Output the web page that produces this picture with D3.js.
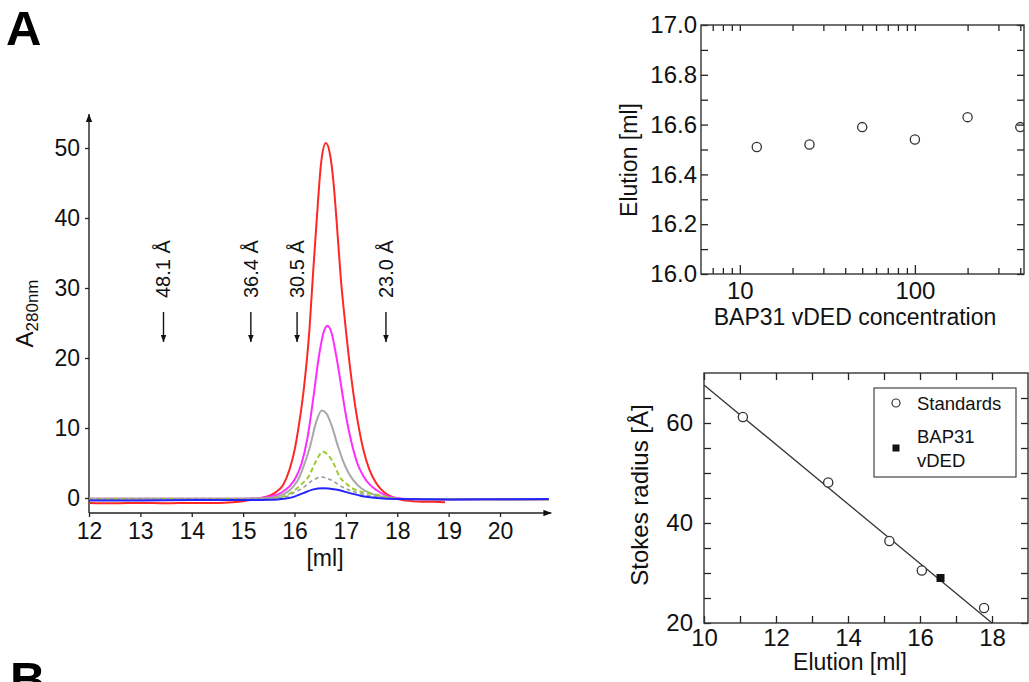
<!DOCTYPE html>
<html>
<head>
<meta charset="utf-8">
<script src="https://cdn.jsdelivr.net/npm/d3@7"></script>
<style>
  body { margin: 0; background: #fff; }
  svg { font-family: "Liberation Sans", Arial, Helvetica, sans-serif; }
  .axis path, .axis line { stroke: #222; stroke-width: 1.3; }
  .axis text { fill: #111; }
</style>
</head>
<body>
<div id="cont"></div>
<script>

// ---------------- data ----------------
// panel A left: chromatograms, [elution ml, A280]
var tickMl = [12, 13, 14, 15, 16, 17, 18, 19, 20];
var tickA = [0, 10, 20, 30, 40, 50];

var redTrace = [[12.0,-0.7],[12.5,-0.75],[13.0,-0.7],[13.5,-0.75],[14.0,-0.7],[14.5,-0.7],[14.8,-0.6],
  [15.0,-0.45],[15.25,-0.15],[15.5,0.3],[15.65,0.9],[15.78,1.9],[15.9,4.0],[16.0,6.8],[16.07,9.7],
  [16.18,15.5],[16.29,24.0],[16.36,32.0],[16.43,39.5],[16.52,48.0],[16.61,50.7],[16.7,48.7],
  [16.76,45.0],[16.82,39.5],[16.9,31.5],[17.0,24.0],[17.1,17.5],[17.18,13.2],[17.26,9.7],
  [17.35,6.6],[17.45,4.2],[17.6,2.0],[17.75,0.8],[17.92,0.1],[18.1,-0.3],[18.4,-0.5],[18.7,-0.55],[18.93,-0.6]];

var magentaTrace = [[12.0,-0.1],[13.0,-0.1],[14.0,-0.1],[15.0,-0.1],[15.3,0.0],[15.55,0.25],[15.7,0.6],
  [15.81,1.1],[15.92,1.8],[16.03,3.0],[16.14,5.0],[16.25,8.5],[16.37,14.5],[16.47,20.0],[16.56,23.5],
  [16.64,24.6],[16.72,23.6],[16.8,20.8],[16.87,17.8],[16.94,14.5],[17.02,11.0],[17.12,7.6],[17.22,5.0],
  [17.35,3.0],[17.48,1.8],[17.6,1.1],[17.75,0.45],[17.9,0.1],[18.1,-0.1],[18.5,-0.2],[19.5,-0.2],[20.95,-0.2]];

var graySolidTrace = [[12.0,-0.1],[13.5,-0.1],[15.0,-0.1],[15.5,0.0],[15.7,0.3],[15.85,0.8],[15.97,1.6],
  [16.07,2.6],[16.18,4.6],[16.3,7.3],[16.42,10.8],[16.53,12.5],[16.62,12.1],[16.72,10.4],[16.85,7.3],
  [16.95,5.2],[17.05,3.6],[17.14,2.6],[17.3,1.4],[17.47,0.7],[17.7,0.2],[18.0,-0.1],[18.5,-0.2],[20.95,-0.2]];

var greenDashTrace = [[12.0,-0.1],[13.5,-0.1],[15.0,-0.1],[15.6,0.0],[15.85,0.4],[16.05,1.4],[16.17,2.2],
  [16.27,3.0],[16.42,5.3],[16.55,6.6],[16.66,6.1],[16.77,4.8],[16.88,3.0],[17.0,2.1],[17.1,1.5],
  [17.3,0.9],[17.5,0.6],[17.66,0.4],[17.9,0.0],[18.2,-0.15],[20.95,-0.2]];

var grayDashTrace = [[12.0,-0.1],[13.5,-0.1],[15.0,-0.1],[15.8,0.1],[16.0,0.8],[16.17,1.5],[16.35,2.5],
  [16.53,3.0],[16.7,2.6],[16.95,1.5],[17.2,0.8],[17.5,0.3],[17.8,0.0],[18.2,-0.15],[20.95,-0.2]];

var blueTrace = [[12.0,-0.35],[13.0,-0.35],[14.0,-0.3],[15.0,-0.3],[15.5,-0.25],[15.8,-0.1],[16.0,0.2],
  [16.17,0.7],[16.35,1.2],[16.56,1.4],[16.8,1.2],[17.08,0.7],[17.3,0.3],[17.6,0.0],[18.0,-0.15],
  [19.0,-0.2],[20.95,-0.15]];

// size standards (elution ml, Stokes radius A)
var standardsElution = [11.08, 13.45, 15.15, 16.05, 17.78];
var standardsRadius  = [61.2, 48.1, 36.4, 30.5, 23.0];
var bapElution = [16.57];
var bapRadius  = [29.0];
var fitLine = [[10, 67.6], [18.0, 20.0]];

// panel A top right: elution vs concentration
var concentrations = [12.5, 25, 50, 100, 200, 400];
var concElution    = [16.51, 16.52, 16.59, 16.54, 16.63, 16.59];
var concMajor = [10, 100];
var concMinor = [7, 8, 9, 20, 30, 40, 50, 60, 70, 80, 90, 200, 300, 400];
var elutionMajor = [16.0, 16.2, 16.4, 16.6, 16.8, 17.0];
var elutionMinor = [16.1, 16.3, 16.5, 16.7, 16.9];

// panel A bottom right ticks
var elutionMlMajor = [10, 12, 14, 16, 18];
var elutionMlMinor = [11, 13, 15, 17];
var radiusMajor = [20, 40, 60];
var radiusMinor = [25, 30, 35, 45, 50, 55, 65];

// ---------------- svg ----------------
var svg = d3.select("#cont").append("svg")
    .attr("width", 1029)
    .attr("height", 682);

var defs = svg.append("defs");
defs.append("marker")
    .attr("id", "axisArrow")
    .attr("viewBox", "0 -4 10 8")
    .attr("refX", 10).attr("refY", 0)
    .attr("markerWidth", 8).attr("markerHeight", 6.4)
    .attr("markerUnits", "userSpaceOnUse")
    .attr("orient", "auto")
  .append("path")
    .attr("d", "M0,-4L10,0L0,4Z")
    .attr("fill", "#111");
defs.append("marker")
    .attr("id", "tipArrow")
    .attr("viewBox", "0 -4 10 8")
    .attr("refX", 10).attr("refY", 0)
    .attr("markerWidth", 7).attr("markerHeight", 5.6)
    .attr("markerUnits", "userSpaceOnUse")
    .attr("orient", "auto")
  .append("path")
    .attr("d", "M0,-4L10,0L0,4Z")
    .attr("fill", "#111");

// panel letters
svg.append("text").attr("x", 6).attr("y", 45)
    .style("font-size", "49px").style("font-weight", "bold").text("A");
svg.append("text").attr("x", 10).attr("y", 696)
    .style("font-size", "49px").style("font-weight", "bold").text("B");

// ================= left chromatogram =================
var xL = d3.scaleLinear().domain([12, 21]).range([89, 551.4]);
var yL = d3.scaleLinear().domain([0, 50]).range([498, 148]);
var baseY = 513, topY = 114;

var gxL = svg.append("g")
    .attr("class", "axis")
    .attr("transform", "translate(0," + baseY + ")")
    .call(d3.axisBottom(xL).tickValues(tickMl).tickSize(4).tickPadding(6).tickFormat(d3.format("d")));
gxL.select(".domain").remove();
gxL.selectAll("text").style("font-size", "23px");

var gyL = svg.append("g")
    .attr("class", "axis")
    .attr("transform", "translate(" + xL(12) + ",0)")
    .call(d3.axisLeft(yL).tickValues(tickA).tickSize(4).tickPadding(5));
gyL.select(".domain").remove();
gyL.selectAll("text").style("font-size", "23px");

svg.append("line")
    .attr("x1", xL(12)).attr("x2", xL(21))
    .attr("y1", baseY).attr("y2", baseY)
    .attr("stroke", "#222").attr("stroke-width", 1.4)
    .attr("marker-end", "url(#axisArrow)");
svg.append("line")
    .attr("x1", xL(12)).attr("x2", xL(12))
    .attr("y1", baseY).attr("y2", topY)
    .attr("stroke", "#222").attr("stroke-width", 1.4)
    .attr("marker-end", "url(#axisArrow)");

// y label A280nm
var yLab = svg.append("text")
    .attr("transform", "translate(33," + ((baseY + topY) / 2) + ") rotate(-90)")
    .attr("text-anchor", "middle")
    .style("font-size", "24px")
    .style("fill", "#111");
yLab.append("tspan").text("A");
yLab.append("tspan").attr("dy", "0.3em").style("font-size", "17px").text("280nm");

svg.append("text")
    .attr("x", 325).attr("y", 566)
    .attr("text-anchor", "middle")
    .style("font-size", "23px").style("fill", "#111")
    .text("[ml]");

// standard markers (arrows with Stokes radius)
var marks = svg.selectAll(".std")
    .data(standardsElution.slice(1).map(function(e, i) { return {e: e, r: standardsRadius[i + 1]}; }))
  .enter().append("g")
    .attr("class", "std");
marks.append("line")
    .attr("x1", function(d) { return xL(d.e); })
    .attr("x2", function(d) { return xL(d.e); })
    .attr("y1", 312).attr("y2", 342)
    .attr("stroke", "#111").attr("stroke-width", 1.4)
    .attr("marker-end", "url(#tipArrow)");
marks.append("text")
    .attr("transform", function(d) { return "translate(" + xL(d.e) + ",298) rotate(-90)"; })
    .attr("dy", "0.35em")
    .style("font-size", "20px").style("fill", "#111")
    .text(function(d) { return d.r.toFixed(1) + " \u00C5"; });

// traces
var traceStyles = [
  {data: redTrace,       color: "#ff2626", width: 2.0, dash: null},
  {data: magentaTrace,   color: "#ff2cff", width: 2.0, dash: null},
  {data: graySolidTrace, color: "#a8a8a8", width: 2.0, dash: null},
  {data: greenDashTrace, color: "#9ccc2e", width: 2.0, dash: "5,3"},
  {data: grayDashTrace,  color: "#9a9a9a", width: 1.6, dash: "4,3"},
  {data: blueTrace,      color: "#2424ff", width: 2.0, dash: null}
];

var traceLine = d3.line()
    .x(function(d) { return xL(d[0]); })
    .y(function(d) { return yL(d[1]); })
    .curve(d3.curveMonotoneX);

svg.selectAll(".trace")
    .data(traceStyles)
  .enter().append("path")
    .attr("class", "trace")
    .attr("d", function(d) { return traceLine(d.data); })
    .attr("fill", "none")
    .attr("stroke", function(d) { return d.color; })
    .attr("stroke-width", function(d) { return d.width; })
    .attr("stroke-dasharray", function(d) { return d.dash; });

// ================= helper for framed plots =================
function framed(x, y, opts) {
  var g = svg.append("g");
  var x0 = x.range()[0], x1 = x.range()[1], y0 = y.range()[0], y1 = y.range()[1];

  function tick(axis, vals, size, labels, tr, pad) {
    var a = axis.tickValues(vals).tickSize(-size).tickPadding(pad || 4);
    a.tickFormat(labels ? labels : "");
    var ag = g.append("g").attr("class", "axis").attr("transform", tr).call(a);
    ag.select(".domain").remove();
    ag.selectAll("text").style("font-size", opts.fontSize);
    return ag;
  }
  tick(d3.axisBottom(x), opts.xMajor, opts.xMajorSize, opts.xFormat, "translate(0," + y0 + ")", opts.xPad);
  tick(d3.axisBottom(x), opts.xMinor, opts.xMinorSize, null, "translate(0," + y0 + ")");
  tick(d3.axisTop(x), opts.xMajor.concat(opts.xMinor), opts.xMinorSize, null, "translate(0," + y1 + ")");
  tick(d3.axisLeft(y), opts.yMajor, 7, opts.yFormat, "translate(" + x0 + ",0)", opts.yPad);
  tick(d3.axisLeft(y), opts.yMinor, 7, null, "translate(" + x0 + ",0)");
  tick(d3.axisRight(y), opts.yMajor.concat(opts.yMinor), 7, null, "translate(" + x1 + ",0)");

  g.append("rect")
      .attr("x", x0).attr("y", y1)
      .attr("width", x1 - x0).attr("height", y0 - y1)
      .attr("fill", "none").attr("stroke", "#333").attr("stroke-width", 1.4);
  return g;
}

// ================= top right: elution vs concentration =================
var xT = d3.scaleLog().domain([6, 420]).range([701, 1024]);
var yT = d3.scaleLinear().domain([16, 17]).range([274, 25]);

framed(xT, yT, {
  xMajor: concMajor, xMinor: concMinor, xMajorSize: 9, xMinorSize: 6, xPad: 8,
  xFormat: d3.format("d"), fontSize: "24px",
  yMajor: elutionMajor, yMinor: elutionMinor, yFormat: d3.format(".1f"), yPad: 4
});

defs.append("clipPath").attr("id", "clipT")
  .append("rect").attr("x", 701).attr("y", 25).attr("width", 323).attr("height", 249);

svg.append("g").attr("clip-path", "url(#clipT)")
    .selectAll("circle")
    .data(concentrations)
  .enter().append("circle")
    .attr("cx", function(d) { return xT(d); })
    .attr("cy", function(d, i) { return yT(concElution[i]); })
    .attr("r", 4.6)
    .attr("fill", "none").attr("stroke", "#333").attr("stroke-width", 1.3);

svg.append("text")
    .attr("x", 855).attr("y", 325)
    .attr("text-anchor", "middle")
    .style("font-size", "23px").style("fill", "#111")
    .text("BAP31 vDED concentration");
svg.append("text")
    .attr("transform", "translate(637,160) rotate(-90)")
    .attr("text-anchor", "middle")
    .style("font-size", "23px").style("fill", "#111")
    .text("Elution [ml]");

// ================= bottom right: calibration =================
var xB = d3.scaleLinear().domain([10, 19]).range([704, 1028]);
var yB = d3.scaleLinear().domain([20, 70]).range([623, 373]);

framed(xB, yB, {
  xMajor: elutionMlMajor, xMinor: elutionMlMinor, xMajorSize: 7, xMinorSize: 7, xPad: 6,
  xFormat: d3.format("d"), fontSize: "24px",
  yMajor: radiusMajor, yMinor: radiusMinor, yFormat: d3.format("d"), yPad: 11
});

svg.append("path")
    .attr("d", d3.line()
        .x(function(d) { return xB(d[0]); })
        .y(function(d) { return yB(d[1]); })(fitLine))
    .attr("fill", "none").attr("stroke", "#333").attr("stroke-width", 1.3);

svg.selectAll(".stdpt")
    .data(standardsElution)
  .enter().append("circle")
    .attr("class", "stdpt")
    .attr("cx", function(d) { return xB(d); })
    .attr("cy", function(d, i) { return yB(standardsRadius[i]); })
    .attr("r", 4.6)
    .attr("fill", "#fff").attr("stroke", "#333").attr("stroke-width", 1.3);

svg.selectAll(".bappt")
    .data(bapElution)
  .enter().append("rect")
    .attr("class", "bappt")
    .attr("x", function(d) { return xB(d) - 4; })
    .attr("y", function(d, i) { return yB(bapRadius[i]) - 4; })
    .attr("width", 8).attr("height", 8)
    .attr("fill", "#111");

// legend
var leg = svg.append("g");
leg.append("rect")
    .attr("x", 874).attr("y", 388).attr("width", 142).attr("height", 89)
    .attr("fill", "#fff").attr("stroke", "#444").attr("stroke-width", 1.2);
leg.append("circle").attr("cx", 896).attr("cy", 403).attr("r", 4)
    .attr("fill", "none").attr("stroke", "#333").attr("stroke-width", 1.2);
leg.append("rect").attr("x", 892.5).attr("y", 444.5).attr("width", 7).attr("height", 7).attr("fill", "#111");
leg.append("text").attr("x", 917).attr("y", 410).style("font-size", "18.5px").style("fill", "#111").text("Standards");
leg.append("text").attr("x", 917).attr("y", 443).style("font-size", "18.5px").style("fill", "#111").text("BAP31");
leg.append("text").attr("x", 917).attr("y", 467).style("font-size", "18.5px").style("fill", "#111").text("vDED");

svg.append("text")
    .attr("x", 850).attr("y", 670)
    .attr("text-anchor", "middle")
    .style("font-size", "23px").style("fill", "#111")
    .text("Elution [ml]");
svg.append("text")
    .attr("transform", "translate(648,495) rotate(-90)")
    .attr("text-anchor", "middle")
    .style("font-size", "24px").style("fill", "#111")
    .text("Stokes radius [\u00C5]");

</script>
</body>
</html>
